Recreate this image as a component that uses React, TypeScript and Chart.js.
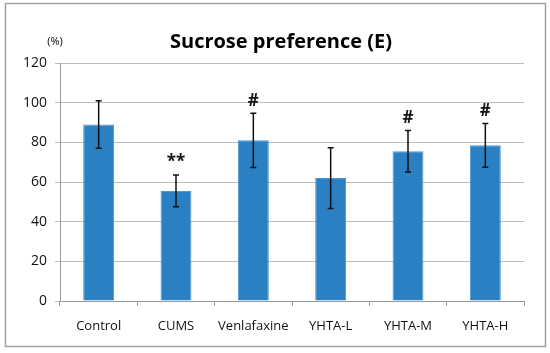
import React, { useEffect, useRef } from "react";
import { Chart, registerables } from "chart.js";

Chart.register(...registerables);

const categories = ["Control", "CUMS", "Venlafaxine", "YHTA-L", "YHTA-M", "YHTA-H"];
const means = [89, 55.5, 81, 62, 75.5, 78.5];
const errors = [12, 8, 13.7, 15.3, 10.5, 11];
const marks = ["", "**", "#", "", "#", "#"];
const yTicks = [0, 20, 40, 60, 80, 100, 120];
const titleText = "Sucrose preference (E)";
const unitText = "(%)";

const FONT = "'Open Sans', 'DejaVu Sans', sans-serif";

const decorPlugin = {
  id: "decor",
  beforeDraw(chart: any) {
    const ctx = chart.ctx;
    ctx.save();
    ctx.fillStyle = "#ffffff";
    ctx.fillRect(0, 0, chart.width, chart.height);
    ctx.strokeStyle = "#a0a0a0";
    ctx.lineWidth = 1.5;
    ctx.strokeRect(5.5, 3.5, 540, 343);
    ctx.fillStyle = "#000";
    ctx.textAlign = "center";
    ctx.textBaseline = "middle";
    ctx.font = `bold 20px ${FONT}`;
    ctx.fillText(titleText, 281, 42);
    ctx.font = `11px ${FONT}`;
    ctx.fillText(unitText, 55, 42);
    ctx.restore();
  },
  afterDatasetsDraw(chart: any) {
    const ctx = chart.ctx;
    const x = chart.scales.x;
    const y = chart.scales.y;
    ctx.save();
    ctx.strokeStyle = "#111";
    ctx.lineWidth = 1.5;
    categories.forEach((_c, i) => {
      const cx = x.getPixelForValue(i);
      const top = y.getPixelForValue(means[i] + errors[i]);
      const bot = y.getPixelForValue(means[i] - errors[i]);
      ctx.beginPath();
      ctx.moveTo(cx, top);
      ctx.lineTo(cx, bot);
      ctx.moveTo(cx - 3, top);
      ctx.lineTo(cx + 3, top);
      ctx.moveTo(cx - 3, bot);
      ctx.lineTo(cx + 3, bot);
      ctx.stroke();
      if (marks[i]) {
        ctx.fillStyle = "#111";
        ctx.textAlign = "center";
        ctx.textBaseline = "bottom";
        ctx.font = `bold 17px ${FONT}`;
        ctx.fillText(marks[i], cx, top - 4);
      }
    });
    ctx.restore();
  },
};

export default function App() {
  const ref = useRef<HTMLCanvasElement>(null);
  useEffect(() => {
    if (!ref.current) return;
    const chart = new Chart(ref.current, {
      type: "bar",
      data: {
        labels: categories,
        datasets: [
          {
            data: means,
            backgroundColor: "#2a80c3",
            borderColor: "#4d97d2",
            borderWidth: 1,
            categoryPercentage: 1,
            barPercentage: 0.4,
          },
        ],
      },
      plugins: [decorPlugin],
      options: {
        animation: false,
        responsive: false,
        maintainAspectRatio: false,
        layout: { padding: { top: 63, right: 26, left: 0, bottom: 0 } },
        plugins: { legend: { display: false }, title: { display: false }, tooltip: { enabled: false } },
        scales: {
          x: {
            grid: { drawOnChartArea: false, drawTicks: true, tickLength: 5, color: "#999" },
            border: { display: true, color: "#999", width: 1 },
            ticks: { color: "#111", font: { family: FONT, size: 13 }, padding: 12 },
            afterFit(scale: any) {
              scale.height = 52;
            },
          },
          y: {
            min: 0,
            max: 120,
            afterBuildTicks(scale: any) {
              scale.ticks = yTicks.map((v) => ({ value: v }));
            },
            grid: { color: "#bdbdbd", tickLength: 5, drawTicks: true },
            border: { display: true, color: "#999", width: 1 },
            ticks: { color: "#111", font: { family: FONT, size: 14 }, padding: 8 },
            afterFit(scale: any) {
              scale.width = 60;
            },
          },
        },
      },
    });
    return () => chart.destroy();
  }, []);
  return (
    <div style={{ position: "fixed", left: 0, top: 0, width: 550, height: 353 }}>
      <canvas ref={ref} width={550} height={353} style={{ width: 550, height: 353 }} />
    </div>
  );
}
